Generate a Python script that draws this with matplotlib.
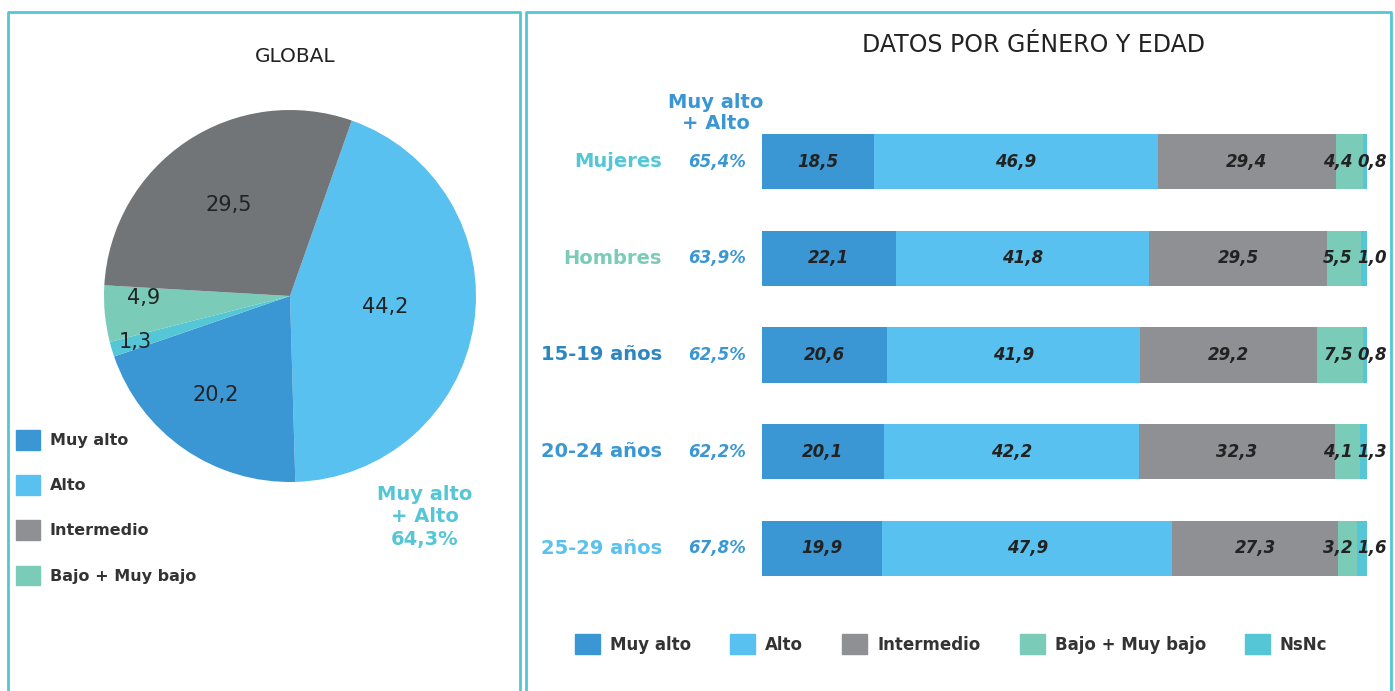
import matplotlib.pyplot as plt
from matplotlib.patches import Patch

plt.rcParams['font.family'] = ['DejaVu Sans']

# colours
c_muyalto = '#3A97D4'
c_alto = '#58C1EF'
c_inter_pie = '#717578'
c_inter = '#8F9094'
c_bajo = '#7ACBB8'
c_nsnc = '#55C6D6'
c_text = '#222222'

# --- global pie data
pie_labels = ['Alto', 'Muy alto', 'NsNc', 'Bajo + Muy bajo', 'Intermedio']
pie_vals = [44.2, 20.2, 1.3, 4.9, 29.5]
pie_txt = ['44,2', '20,2', '1,3', '4,9', '29,5']
pie_cols = [c_alto, c_muyalto, c_nsnc, c_bajo, c_inter_pie]
global_total = '64,3%'

# --- bars by gender / age
groups = ['Mujeres', 'Hombres', '15-19 años', '20-24 años', '25-29 años']
group_cols = ['#55C6D6', '#7ACBB8', '#2E86C1', '#3A97D4', '#58C1EF']
top_pct = ['65,4%', '63,9%', '62,5%', '62,2%', '67,8%']
muy_alto = [18.5, 22.1, 20.6, 20.1, 19.9]
alto = [46.9, 41.8, 41.9, 42.2, 47.9]
intermedio = [29.4, 29.5, 29.2, 32.3, 27.3]
bajo = [4.4, 5.5, 7.5, 4.1, 3.2]
nsnc = [0.8, 1.0, 0.8, 1.3, 1.6]

W, H = 1395, 691
fig = plt.figure(figsize=(W / 100, H / 100), dpi=100)

# overlay axes in pixel coords for frames and free text
ov = fig.add_axes([0, 0, 1, 1])
ov.set_xlim(0, W)
ov.set_ylim(H, 0)
ov.axis('off')
ov.plot([8, 8, 520, 520], [700, 12, 12, 700], color=c_nsnc, lw=2)
ov.plot([526, 526, 1391, 1391], [700, 12, 12, 700], color=c_nsnc, lw=2)
ov.text(295, 56, 'GLOBAL', ha='center', va='center', fontsize=14.5, color=c_text)
ov.text(1033, 45, 'DATOS POR GÉNERO Y EDAD', ha='center', va='center', fontsize=17, color=c_text)
ov.text(425, 517, 'Muy alto\n+ Alto\n' + global_total, ha='center', va='center',
        fontsize=14, fontweight='bold', color=c_nsnc, linespacing=1.2)
ov.text(716, 113, 'Muy alto\n+ Alto', ha='center', va='center',
        fontsize=14, fontweight='bold', color=c_muyalto, linespacing=1.12)

# pie
cx, cy, r = 290, 296, 186
pax = fig.add_axes([(cx - r) / W, (H - cy - r) / H, 2 * r / W, 2 * r / H])
wedges, _ = pax.pie(pie_vals, colors=pie_cols, startangle=70.6, counterclock=False,
                    radius=1)
pax.set_xlim(-1, 1)
pax.set_ylim(-1, 1)
pax.set_aspect('equal')
label_pos = {'44,2': (0.51, -0.06), '20,2': (-0.40, -0.53), '29,5': (-0.33, 0.49),
             '4,9': (-0.785, -0.01), '1,3': (-0.83, -0.25)}
for t in pie_txt:
    x, y = label_pos[t]
    pax.text(x, y, t, ha='center', va='center', fontsize=15, color=c_text)

pax.legend(handles=[Patch(color=c_muyalto, label='Muy alto'),
                    Patch(color=c_alto, label='Alto'),
                    Patch(color=c_inter, label='Intermedio'),
                    Patch(color=c_bajo, label='Bajo + Muy bajo')],
           loc='upper left', bbox_to_anchor=(10 / W, (H - 424) / H),
           bbox_transform=fig.transFigure, frameon=False,
           prop={'weight': 'bold', 'size': 11.5}, labelcolor='#333333',
           handlelength=1.5, handleheight=1.5, labelspacing=1.6, handletextpad=0.6,
           borderaxespad=0)

# bars
bx0, bx1 = 762, 1368
step = 96.75
btop = 161.5 - step / 2
bax = fig.add_axes([bx0 / W, (H - (btop + 5 * step)) / H, (bx1 - bx0) / W, 5 * step / H])
series = [muy_alto, alto, intermedio, bajo, nsnc]
cols = [c_muyalto, c_alto, c_inter, c_bajo, c_nsnc]
ypos = list(range(len(groups)))
left = [0.0] * len(groups)
for vals, col in zip(series, cols):
    bax.barh(ypos, vals, left=left, height=0.57, color=col, edgecolor='none')
    left = [a + b for a, b in zip(left, vals)]
bax.set_xlim(0, 100.1)
bax.set_ylim(4.5, -0.5)
bax.axis('off')

fmt = lambda v: f'{v:.1f}'.replace('.', ',')
lab_kw = dict(va='center', fontsize=12, fontweight='bold', fontstyle='italic', color=c_text)
for i in ypos:
    a = muy_alto[i]
    b = a + alto[i]
    c = b + intermedio[i]
    bax.text(a / 2, i, fmt(muy_alto[i]), ha='center', **lab_kw)
    bax.text((a + b) / 2, i, fmt(alto[i]), ha='center', **lab_kw)
    bax.text((b + c) / 2, i, fmt(intermedio[i]), ha='center', **lab_kw)
    bax.text(97.6, i, fmt(bajo[i]), ha='right', **lab_kw)
    bax.text(98.4, i, fmt(nsnc[i]), ha='left', clip_on=False, **lab_kw)
    bax.text(-16.5, i, groups[i], ha='right', va='center', fontsize=14,
             fontweight='bold', color=group_cols[i])
    bax.text(-2.6, i, top_pct[i], ha='right', va='center', fontsize=12,
             fontweight='bold', fontstyle='italic', color=c_muyalto)

bax.legend(handles=[Patch(color=c, label=l) for c, l in
                    zip(cols, ['Muy alto', 'Alto', 'Intermedio', 'Bajo + Muy bajo', 'NsNc'])],
           loc='center left', bbox_to_anchor=(568 / W, (H - 644) / H),
           bbox_transform=fig.transFigure, ncol=5, frameon=False,
           prop={'weight': 'bold', 'size': 12}, labelcolor='#333333',
           handlelength=1.5, handleheight=1.5, handletextpad=0.6, columnspacing=2.35,
           borderaxespad=0)

fig.savefig('out.png', dpi=100)
